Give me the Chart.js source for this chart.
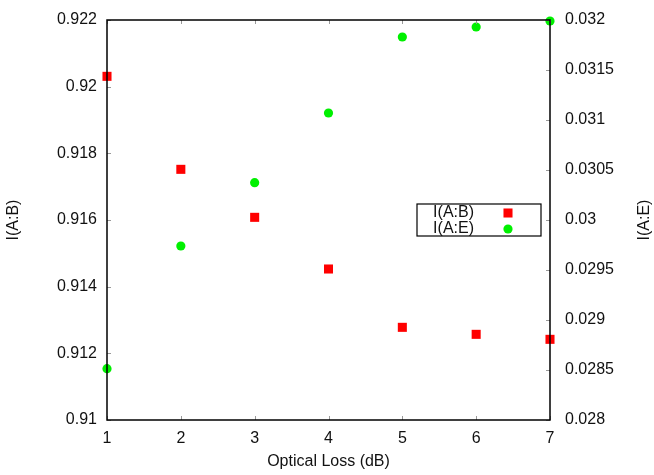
<!DOCTYPE html>
<html>
<head>
<meta charset="utf-8">
<script src="https://cdn.jsdelivr.net/npm/chart.js@4.4.1/dist/chart.umd.min.js"></script>
<style>
  html, body { margin: 0; padding: 0; background: #fff; }
  #wrap { width: 654px; height: 475px; }
</style>
</head>
<body>
<div id="wrap"><canvas id="myChart"></canvas></div>
<script>
// optical loss in dB
const losses = [1, 2, 3, 4, 5, 6, 7];
// mutual information
const infoAB = [0.92031, 0.91752, 0.91608, 0.91453, 0.91278, 0.91257, 0.91242];
const infoAE = [0.028513, 0.02974, 0.030373, 0.03107, 0.03183, 0.03193, 0.03199];

const leftTicks = [0.91, 0.912, 0.914, 0.916, 0.918, 0.92, 0.922];
const rightTicks = [0.028, 0.0285, 0.029, 0.0295, 0.03, 0.0305, 0.031, 0.0315, 0.032];

const fontFam = '"Liberation Sans", Arial, Helvetica, sans-serif';
Chart.defaults.font.family = fontFam;
Chart.defaults.font.size = 16;
Chart.defaults.color = '#111';

function pts(ys){
  return losses.map((x, i) => ({x: x, y: ys[i]}));
}

// frame, inward ticks, right axis title and the inset legend (gnuplot look)
const frameAndLegend = {
  id: 'frameAndLegend',
  afterDatasetsDraw(chart){
    const ctx = chart.ctx;
    const a = chart.chartArea;
    const sx = chart.scales.x, sy = chart.scales.y, sy2 = chart.scales.y2;
    ctx.save();
    ctx.strokeStyle = '#999';
    ctx.lineWidth = 1;
    ctx.beginPath();
    losses.forEach(v => {
      const px = Math.round(sx.getPixelForValue(v)) + 0.5;
      ctx.moveTo(px, a.bottom); ctx.lineTo(px, a.bottom - 4);
      ctx.moveTo(px, a.top); ctx.lineTo(px, a.top + 4);
    });
    leftTicks.forEach(v => {
      const py = Math.round(sy.getPixelForValue(v)) + 0.5;
      ctx.moveTo(a.left, py); ctx.lineTo(a.left + 4, py);
    });
    rightTicks.forEach(v => {
      const py = Math.round(sy2.getPixelForValue(v)) + 0.5;
      ctx.moveTo(a.right, py); ctx.lineTo(a.right - 4, py);
    });
    ctx.stroke();

    ctx.strokeStyle = '#000';
    ctx.lineWidth = 1.5;
    ctx.strokeRect(a.left, a.top, a.right - a.left, a.bottom - a.top);

    // right axis title, reading bottom to top like the left one
    ctx.font = '16px ' + fontFam;
    ctx.fillStyle = '#111';
    ctx.textAlign = 'center';
    ctx.textBaseline = 'middle';
    ctx.save();
    ctx.translate(645, (a.top + a.bottom) / 2);
    ctx.rotate(-Math.PI / 2);
    ctx.fillText(chart.options.scales.y2.title.text, 0, 0);
    ctx.restore();

    // legend box
    const bx = 417, by = 204, bw = 124, bh = 32;
    ctx.lineWidth = 1.2;
    ctx.strokeStyle = '#000';
    ctx.strokeRect(bx, by, bw, bh);
    ctx.textAlign = 'right';
    chart.data.datasets.forEach((ds, i) => {
      const ly = by + 9 + i * 16;
      ctx.fillStyle = '#111';
      ctx.fillText(ds.label, 474, ly);
      ctx.fillStyle = ds.backgroundColor;
      ctx.strokeStyle = ds.backgroundColor;
      Chart.helpers.drawPoint(ctx, {pointStyle: ds.pointStyle, radius: ds.pointRadius, borderWidth: 0}, 508, ly);
    });
    ctx.restore();
  }
};

const ctx = document.getElementById('myChart');

new Chart(ctx, {
  type: 'scatter',
  data: {
    datasets: [{
      label: 'I(A:B)',
      data: pts(infoAB),
      yAxisID: 'y',
      backgroundColor: '#ff0000',
      borderColor: '#ff0000',
      borderWidth: 0,
      pointStyle: 'rect',
      pointRadius: 6.4,
      clip: false
    }, {
      label: 'I(A:E)',
      data: pts(infoAE),
      yAxisID: 'y2',
      backgroundColor: '#00f000',
      borderColor: '#00f000',
      borderWidth: 0,
      pointStyle: 'circle',
      pointRadius: 4.6,
      clip: false
    }]
  },
  options: {
    responsive: true,
    maintainAspectRatio: false,
    animation: false,
    events: [],
    layout: { padding: { top: 20, left: 0, right: 0, bottom: 0 } },
    plugins: {
      legend: { display: false },
      tooltip: { enabled: false }
    },
    scales: {
      x: {
        type: 'linear',
        min: 1, max: 7,
        grid: { drawOnChartArea: false, drawTicks: false },
        border: { display: false },
        ticks: { stepSize: 1, padding: 9, font: { size: 16 } },
        title: { display: true, text: 'Optical Loss (dB)', font: { size: 16 }, padding: { top: 4, bottom: 4 } },
        afterFit(scale){ scale.height = 55; scale.paddingLeft = 0; scale.paddingRight = 0; }
      },
      y: {
        position: 'left',
        min: 0.91, max: 0.922,
        grid: { drawOnChartArea: false, drawTicks: false },
        border: { display: false },
        ticks: {
          stepSize: 0.002, padding: 10,
          callback: v => String(+v.toFixed(4))
        },
        title: { display: true, text: 'I(A:B)', font: { size: 16 }, padding: { top: 4, bottom: 4 } },
        afterFit(scale){ scale.width = 107; scale.paddingTop = 0; scale.paddingBottom = 0; }
      },
      y2: {
        position: 'right',
        min: 0.028, max: 0.032,
        grid: { drawOnChartArea: false, drawTicks: false },
        border: { display: false },
        ticks: {
          stepSize: 0.0005, padding: 15,
          callback: v => String(+v.toFixed(5))
        },
        title: { display: false, text: 'I(A:E)' },
        afterFit(scale){ scale.width = 104; scale.paddingTop = 0; scale.paddingBottom = 0; }
      }
    }
  },
  plugins: [frameAndLegend]
});
</script>
</body>
</html>
